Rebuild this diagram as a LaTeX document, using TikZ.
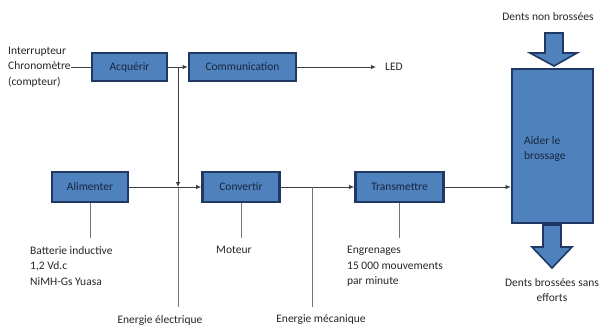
\documentclass[tikz,border=0pt]{standalone}
\usepackage{fontspec}
\setmainfont{Carlito}
\usetikzlibrary{arrows.meta,shadows}
\definecolor{boxfill}{HTML}{4F81BD}
\definecolor{boxline}{HTML}{1F3864}
\definecolor{boxtext}{HTML}{17263F}
\definecolor{wire}{HTML}{404040}
\begin{document}
\begin{tikzpicture}[x=1pt,y=-1pt,
  every node/.style={font=\fontsize{11.5}{15.5}\selectfont, inner sep=0pt},
  blk/.style={draw=boxline, fill=boxfill, line width=2.6pt, text=boxtext,
    drop shadow={opacity=0.25, shadow xshift=1.2pt, shadow yshift=-1.2pt}},
  wire/.style={draw=wire, line width=0.8pt},
  arr/.style={wire, -{Latex[length=5pt,width=4.5pt]}},
  stub/.style={draw=black!55, line width=0.8pt},
  lbl/.style={text=black!85, align=left},
  fat/.style={draw=boxline, fill=boxfill, line width=1.6pt, line join=miter}
]
\useasboundingbox (0,0) rectangle (603,327);

% blocks
\node[blk, minimum width=75pt, minimum height=28pt] (acq) at (129.5,67) {Acquérir};
\node[blk, minimum width=107pt, minimum height=28pt] (com) at (242.5,67) {Communication};
\node[blk, minimum width=76pt, minimum height=30pt] (ali) at (90,187) {Alimenter};
\node[blk, minimum width=77pt, minimum height=30pt] (conv) at (241,187) {Convertir};
\node[blk, minimum width=88pt, minimum height=30pt] (trans) at (399.5,187) {Transmettre};
\node[blk, minimum width=81pt, minimum height=154pt] (aider) at (552.5,146) {};
\node[lbl, text=boxtext, anchor=north west] (aidertxt) at (524,136) {Aider le\\brossage};

% text labels
\node[lbl, anchor=west] (inter) at (8,67) {Interrupteur\\Chronomètre\\(compteur)};
\node[lbl, anchor=west] (led) at (385,67) {LED};
\node[lbl, anchor=north west] (bat) at (30,246) {Batterie inductive\\1,2 Vd.c\\NiMH-Gs Yuasa};
\node[lbl, anchor=north west] (mot) at (216,246) {Moteur};
\node[lbl, anchor=north west] (eng) at (347,246) {Engrenages\\15 000 mouvements\\par minute};
\node[lbl] (eel) at (160,320) {Energie électrique};
\node[lbl] (emec) at (321,320) {Energie mécanique};
\node[lbl] (dnb) at (548,17) {Dents non brossées};
\node[lbl, align=center] (db) at (552,290) {Dents brossées sans\\efforts};

% coordinates
\coordinate (j1) at (178,67);
\coordinate (j2) at (178,187);
\coordinate (e1) at (178,307);
\coordinate (j3) at (312,187);
\coordinate (e2) at (312,307);
\coordinate (ledin) at (376,67);
\coordinate (s1) at (ali.south |- 0,238);
\coordinate (s2) at (conv.south |- 0,238);
\coordinate (s3) at (trans.south |- 0,238);

% connectors
\draw[wire] (inter.east |- acq.west) -- (acq.west);
\draw[arr] (acq.east) -- (com.west);
\draw[arr] (com.east) -- (ledin);
\draw[arr] (j1) -- (j2);
\draw[stub] (j2) -- (e1);
\draw[arr] (ali.east) -- (conv.west);
\draw[arr] (conv.east) -- (trans.west);
\draw[stub] (j3) -- (e2);
\draw[arr] (trans.east) -- (aider.west |- trans.east);
\draw[stub] (ali.south) -- (s1);
\draw[stub] (conv.south) -- (s2);
\draw[stub] (trans.south) -- (s3);

% fat arrows
\draw[fat] (545,33) -- (563,33) -- (563,53) -- (577,53) -- (554,66) -- (530,53) -- (545,53) -- cycle;
\draw[fat] (543,225) -- (561,225) -- (561,247) -- (572,247) -- (552,268) -- (532,247) -- (543,247) -- cycle;
\end{tikzpicture}
\end{document}
